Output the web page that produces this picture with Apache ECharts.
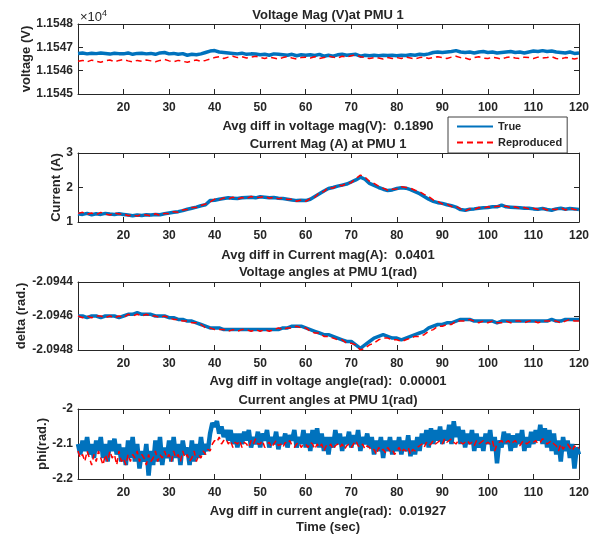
<!DOCTYPE html>
<html><head><meta charset="utf-8">
<script src="https://cdn.jsdelivr.net/npm/echarts@6/dist/echarts.min.js"></script>
<style>html,body{margin:0;padding:0;background:#fff}#c{width:600px;height:534px}</style>
</head><body><div id="c"></div>
<script>
// ---- time grids (s) ----
const timeSec = [10,11,12,13,14,15,16,17,18,19,20,21,22,23,24,25,26,27,28,29,30,31,32,33,34,35,36,37,38,39,
40,41,42,43,44,45,46,47,48,49,50,51,52,53,54,55,56,57,58,59,60,61,62,63,64,65,66,67,68,69,
70,71,72,73,74,75,76,77,78,79,80,81,82,83,84,85,86,87,88,89,90,91,92,93,94,95,96,97,98,99,
100,101,102,103,104,105,106,107,108,109,110,111,112,113,114,115,116,117,118,119,120];
const timeFine = [10,10.5,11,11.5,12,12.5,13,13.5,14,14.5,15,15.5,16,16.5,17,17.5,18,18.5,19,19.5,
20,20.5,21,21.5,22,22.5,23,23.5,24,24.5,25,25.5,26,26.5,27,27.5,28,28.5,29,29.5,
30,30.5,31,31.5,32,32.5,33,33.5,34,34.5,35,35.5,36,36.5,37,37.5,38,38.5,39,39.5,
40,40.5,41,41.5,42,42.5,43,43.5,44,44.5,45,45.5,46,46.5,47,47.5,48,48.5,49,49.5,
50,50.5,51,51.5,52,52.5,53,53.5,54,54.5,55,55.5,56,56.5,57,57.5,58,58.5,59,59.5,
60,60.5,61,61.5,62,62.5,63,63.5,64,64.5,65,65.5,66,66.5,67,67.5,68,68.5,69,69.5,
70,70.5,71,71.5,72,72.5,73,73.5,74,74.5,75,75.5,76,76.5,77,77.5,78,78.5,79,79.5,
80,80.5,81,81.5,82,82.5,83,83.5,84,84.5,85,85.5,86,86.5,87,87.5,88,88.5,89,89.5,
90,90.5,91,91.5,92,92.5,93,93.5,94,94.5,95,95.5,96,96.5,97,97.5,98,98.5,99,99.5,
100,100.5,101,101.5,102,102.5,103,103.5,104,104.5,105,105.5,106,106.5,107,107.5,108,108.5,109,109.5,
110,110.5,111,111.5,112,112.5,113,113.5,114,114.5,115,115.5,116,116.5,117,117.5,118,118.5,119,119.5,120];

// ---- Panel 1: voltage magnitude (V) ----
const voltMagTrue = [11546.74,11546.76,11546.72,11546.75,11546.73,11546.76,11546.74,11546.71,11546.75,11546.73,
11546.72,11546.76,11546.70,11546.74,11546.75,11546.72,11546.74,11546.70,11546.76,11546.78,
11546.72,11546.74,11546.70,11546.73,11546.66,11546.70,11546.68,11546.72,11546.78,11546.84,
11546.86,11546.80,11546.78,11546.76,11546.74,11546.72,11546.75,11546.70,11546.72,11546.71,
11546.68,11546.70,11546.66,11546.72,11546.70,11546.68,11546.66,11546.70,11546.64,11546.68,
11546.66,11546.68,11546.65,11546.70,11546.62,11546.66,11546.62,11546.68,11546.70,11546.66,
11546.68,11546.70,11546.62,11546.66,11546.64,11546.66,11546.64,11546.66,11546.65,11546.66,
11546.64,11546.66,11546.65,11546.68,11546.66,11546.70,11546.68,11546.72,11546.78,11546.80,
11546.78,11546.80,11546.82,11546.86,11546.80,11546.78,11546.80,11546.76,11546.80,11546.82,
11546.78,11546.80,11546.76,11546.78,11546.80,11546.82,11546.78,11546.80,11546.76,11546.80,
11546.84,11546.82,11546.86,11546.82,11546.84,11546.80,11546.78,11546.76,11546.80,11546.74,11546.76];
const voltMagRep = [11546.40,11546.44,11546.38,11546.45,11546.40,11546.36,11546.42,11546.46,11546.38,11546.44,
11546.48,11546.42,11546.38,11546.44,11546.40,11546.46,11546.42,11546.38,11546.44,11546.48,
11546.42,11546.38,11546.44,11546.40,11546.36,11546.42,11546.46,11546.40,11546.44,11546.50,
11546.56,11546.60,11546.52,11546.58,11546.62,11546.56,11546.60,11546.54,11546.58,11546.62,
11546.56,11546.52,11546.58,11546.54,11546.50,11546.56,11546.60,11546.54,11546.50,11546.56,
11546.58,11546.54,11546.60,11546.52,11546.56,11546.62,11546.58,11546.54,11546.62,11546.58,
11546.64,11546.68,11546.60,11546.56,11546.52,11546.56,11546.54,11546.50,11546.56,11546.52,
11546.56,11546.52,11546.58,11546.54,11546.50,11546.56,11546.58,11546.52,11546.56,11546.60,
11546.56,11546.52,11546.58,11546.62,11546.56,11546.54,11546.48,11546.56,11546.60,11546.54,
11546.52,11546.58,11546.54,11546.50,11546.56,11546.60,11546.54,11546.52,11546.58,11546.56,
11546.52,11546.58,11546.54,11546.56,11546.60,11546.52,11546.50,11546.56,11546.54,11546.50,11546.55];

// ---- Panel 2: current magnitude (A) ----
const curMagTrue = [1.24,1.22,1.25,1.21,1.24,1.22,1.25,1.23,1.22,1.24,
1.22,1.20,1.18,1.20,1.19,1.21,1.20,1.22,1.21,1.24,
1.26,1.28,1.30,1.33,1.37,1.40,1.43,1.47,1.50,1.62,
1.63,1.66,1.68,1.70,1.69,1.68,1.70,1.71,1.72,1.70,
1.73,1.72,1.70,1.71,1.69,1.68,1.66,1.64,1.62,1.63,
1.62,1.66,1.74,1.82,1.90,1.97,2.00,2.04,2.07,2.10,
2.16,2.22,2.30,2.24,2.12,2.06,2.00,1.95,1.91,1.93,
1.97,1.99,1.98,1.94,1.88,1.82,1.74,1.66,1.60,1.56,
1.54,1.50,1.47,1.43,1.36,1.34,1.37,1.38,1.40,1.41,
1.42,1.44,1.44,1.49,1.44,1.43,1.42,1.41,1.40,1.40,
1.38,1.37,1.39,1.36,1.34,1.38,1.40,1.37,1.39,1.38,1.36];
const curMagRep = [1.25,1.28,1.22,1.26,1.21,1.28,1.23,1.20,1.26,1.23,
1.24,1.18,1.21,1.17,1.22,1.20,1.18,1.24,1.19,1.25,
1.24,1.30,1.28,1.35,1.36,1.42,1.42,1.48,1.52,1.58,
1.66,1.64,1.70,1.67,1.72,1.66,1.71,1.68,1.74,1.71,
1.72,1.74,1.69,1.72,1.67,1.70,1.65,1.66,1.60,1.64,
1.60,1.68,1.72,1.85,1.88,2.00,1.98,2.07,2.05,2.12,
2.14,2.26,2.36,2.30,2.18,2.12,2.04,1.98,1.92,1.95,
1.96,2.02,2.00,1.98,1.92,1.88,1.80,1.74,1.64,1.60,
1.52,1.52,1.45,1.45,1.38,1.32,1.38,1.36,1.42,1.40,
1.44,1.42,1.46,1.46,1.46,1.41,1.44,1.39,1.42,1.38,
1.40,1.36,1.40,1.35,1.37,1.36,1.41,1.35,1.40,1.36,1.35];

// ---- Panel 3: voltage angle (rad) ----
const voltAngTrue = [-2.09460,-2.09460,-2.09461,-2.09460,-2.09460,-2.09461,-2.09460,-2.09460,-2.09460,-2.09461,
-2.09460,-2.09459,-2.09459,-2.09458,-2.09459,-2.09459,-2.09459,-2.09460,-2.09460,-2.09460,
-2.09461,-2.09461,-2.09462,-2.09462,-2.09463,-2.09463,-2.09464,-2.09465,-2.09466,-2.09467,
-2.09467,-2.09467,-2.09468,-2.09468,-2.09468,-2.09468,-2.09468,-2.09468,-2.09468,-2.09468,
-2.09468,-2.09468,-2.09468,-2.09468,-2.09468,-2.09467,-2.09467,-2.09466,-2.09466,-2.09466,
-2.09467,-2.09468,-2.09469,-2.09470,-2.09471,-2.09471,-2.09472,-2.09473,-2.09474,-2.09475,
-2.09475,-2.09477,-2.09479,-2.09477,-2.09475,-2.09473,-2.09472,-2.09471,-2.09472,-2.09473,
-2.09473,-2.09474,-2.09473,-2.09472,-2.09471,-2.09470,-2.09469,-2.09467,-2.09466,-2.09465,
-2.09465,-2.09464,-2.09464,-2.09463,-2.09462,-2.09462,-2.09462,-2.09463,-2.09463,-2.09463,
-2.09463,-2.09463,-2.09464,-2.09463,-2.09463,-2.09463,-2.09463,-2.09463,-2.09463,-2.09463,
-2.09463,-2.09463,-2.09463,-2.09463,-2.09462,-2.09463,-2.09463,-2.09462,-2.09462,-2.09462,-2.09462];
const voltAngRep = [-2.09460,-2.09461,-2.09460,-2.09461,-2.09460,-2.09460,-2.09461,-2.09460,-2.09461,-2.09460,
-2.09461,-2.09459,-2.09460,-2.09459,-2.09460,-2.09459,-2.09460,-2.09460,-2.09461,-2.09460,
-2.09461,-2.09462,-2.09462,-2.09463,-2.09463,-2.09464,-2.09464,-2.09465,-2.09467,-2.09467,
-2.09468,-2.09468,-2.09468,-2.09469,-2.09468,-2.09469,-2.09468,-2.09468,-2.09469,-2.09468,
-2.09469,-2.09468,-2.09469,-2.09468,-2.09467,-2.09468,-2.09467,-2.09467,-2.09466,-2.09467,
-2.09467,-2.09469,-2.09470,-2.09470,-2.09472,-2.09472,-2.09473,-2.09474,-2.09474,-2.09476,
-2.09476,-2.09477,-2.09480,-2.09479,-2.09477,-2.09476,-2.09474,-2.09473,-2.09473,-2.09474,
-2.09474,-2.09475,-2.09474,-2.09473,-2.09472,-2.09472,-2.09471,-2.09469,-2.09468,-2.09466,
-2.09466,-2.09465,-2.09465,-2.09463,-2.09463,-2.09463,-2.09462,-2.09463,-2.09464,-2.09463,
-2.09464,-2.09463,-2.09464,-2.09464,-2.09463,-2.09464,-2.09463,-2.09463,-2.09464,-2.09463,
-2.09463,-2.09464,-2.09463,-2.09463,-2.09463,-2.09463,-2.09464,-2.09463,-2.09462,-2.09463,-2.09463];

// ---- Panel 4: current angle (rad) ----
const curAngTrue = [-2.10,-2.13,-2.09,-2.12,-2.08,-2.13,-2.10,-2.14,-2.09,-2.12,
-2.08,-2.14,-2.10,-2.15,-2.09,-2.12,-2.085,-2.13,-2.10,-2.15,
-2.11,-2.16,-2.09,-2.14,-2.08,-2.15,-2.10,-2.17,-2.12,-2.15,
-2.10,-2.19,-2.12,-2.16,-2.09,-2.15,-2.08,-2.16,-2.11,-2.14,
-2.09,-2.15,-2.08,-2.14,-2.10,-2.16,-2.09,-2.13,-2.11,-2.16,
-2.09,-2.15,-2.10,-2.14,-2.08,-2.13,-2.10,-2.12,-2.07,-2.04,
-2.05,-2.035,-2.07,-2.05,-2.08,-2.06,-2.09,-2.06,-2.10,-2.07,
-2.11,-2.07,-2.10,-2.065,-2.09,-2.06,-2.11,-2.08,-2.10,-2.065,
-2.11,-2.07,-2.09,-2.06,-2.11,-2.08,-2.10,-2.065,-2.115,-2.08,
-2.10,-2.07,-2.11,-2.075,-2.09,-2.06,-2.11,-2.08,-2.10,-2.06,
-2.11,-2.07,-2.12,-2.06,-2.10,-2.055,-2.11,-2.07,-2.12,-2.08,
-2.13,-2.08,-2.11,-2.06,-2.10,-2.07,-2.12,-2.08,-2.10,-2.065,
-2.11,-2.075,-2.10,-2.06,-2.12,-2.08,-2.10,-2.07,-2.11,-2.08,
-2.13,-2.09,-2.12,-2.08,-2.14,-2.09,-2.12,-2.08,-2.13,-2.09,
-2.12,-2.08,-2.13,-2.09,-2.12,-2.075,-2.135,-2.09,-2.13,-2.08,
-2.12,-2.07,-2.10,-2.06,-2.11,-2.055,-2.10,-2.06,-2.09,-2.05,
-2.10,-2.06,-2.09,-2.045,-2.10,-2.035,-2.08,-2.05,-2.10,-2.06,
-2.11,-2.07,-2.10,-2.06,-2.12,-2.07,-2.11,-2.08,-2.12,-2.07,
-2.10,-2.06,-2.12,-2.08,-2.155,-2.09,-2.11,-2.065,-2.10,-2.07,
-2.12,-2.075,-2.11,-2.07,-2.10,-2.06,-2.12,-2.08,-2.11,-2.065,
-2.10,-2.06,-2.09,-2.045,-2.10,-2.055,-2.11,-2.06,-2.12,-2.07,
-2.13,-2.09,-2.15,-2.08,-2.12,-2.09,-2.14,-2.10,-2.17,-2.11,-2.13];
const curAngRep = [-2.12,-2.14,-2.13,-2.15,-2.12,-2.14,-2.16,-2.13,-2.15,-2.12,
-2.14,-2.16,-2.13,-2.15,-2.12,-2.14,-2.13,-2.16,-2.12,-2.15,
-2.14,-2.16,-2.13,-2.15,-2.13,-2.14,-2.12,-2.15,-2.13,-2.14,
-2.16,-2.13,-2.15,-2.14,-2.12,-2.15,-2.13,-2.14,-2.12,-2.14,
-2.13,-2.15,-2.12,-2.14,-2.13,-2.15,-2.12,-2.14,-2.13,-2.15,
-2.14,-2.12,-2.15,-2.13,-2.14,-2.12,-2.13,-2.115,-2.12,-2.10,
-2.09,-2.095,-2.08,-2.10,-2.09,-2.085,-2.10,-2.09,-2.11,-2.095,
-2.10,-2.09,-2.11,-2.095,-2.10,-2.11,-2.09,-2.10,-2.085,-2.10,
-2.10,-2.09,-2.11,-2.10,-2.095,-2.11,-2.10,-2.09,-2.105,-2.10,
-2.11,-2.095,-2.10,-2.09,-2.105,-2.11,-2.10,-2.095,-2.11,-2.10,
-2.10,-2.11,-2.095,-2.10,-2.115,-2.10,-2.11,-2.10,-2.12,-2.105,
-2.11,-2.10,-2.115,-2.105,-2.10,-2.11,-2.10,-2.115,-2.105,-2.10,
-2.11,-2.10,-2.09,-2.105,-2.11,-2.10,-2.115,-2.105,-2.11,-2.12,
-2.115,-2.13,-2.11,-2.12,-2.115,-2.125,-2.11,-2.12,-2.115,-2.13,
-2.12,-2.11,-2.125,-2.115,-2.12,-2.11,-2.13,-2.115,-2.12,-2.11,
-2.105,-2.10,-2.11,-2.095,-2.105,-2.10,-2.09,-2.10,-2.095,-2.09,
-2.10,-2.085,-2.095,-2.09,-2.085,-2.095,-2.10,-2.09,-2.095,-2.10,
-2.095,-2.09,-2.10,-2.095,-2.105,-2.09,-2.10,-2.095,-2.09,-2.10,
-2.095,-2.10,-2.09,-2.12,-2.10,-2.095,-2.09,-2.10,-2.095,-2.09,
-2.10,-2.095,-2.09,-2.10,-2.105,-2.095,-2.09,-2.10,-2.095,-2.09,
-2.095,-2.09,-2.10,-2.095,-2.085,-2.09,-2.10,-2.095,-2.09,-2.10,
-2.105,-2.12,-2.10,-2.115,-2.105,-2.10,-2.11,-2.12,-2.105,-2.115,-2.11];

// ---- texts ----
const panelTitles = ['Voltage Mag (V)at PMU 1','Current Mag (A) at PMU 1','Voltage angles at PMU 1(rad)','Current angles at PMU 1(rad)'];
const panelXLabels = ['Avg diff in voltage mag(V):  0.1890','Avg diff in Current mag(A):  0.0401','Avg diff in voltage angle(rad):  0.00001','Avg diff in current angle(rad):  0.01927'];
const panelYLabels = ['voltage (V)','Current (A)','delta (rad.)','phi(rad.)'];
const xTickLabels = [20,30,40,50,60,70,80,90,100,110,120];

const FONT = 'Arial, "Liberation Sans", Helvetica, sans-serif';
const TXT = '#262626';
const BLUE = '#0072BD', RED = '#FF0000';

const layout = [
  {top:24,height:70, titleY:15, xlabY:126, nameGap:45},
  {top:153,height:69, titleY:144, xlabY:255, nameGap:15},
  {top:282,height:68, titleY:272, xlabY:381, nameGap:50},
  {top:409,height:70, titleY:400, xlabY:511, nameGap:29}
];
const yCfg = [
  {min:11545,max:11548,interval:1,fmt:v=>(v/1e4).toFixed(4)},
  {min:1,max:3,interval:1,fmt:v=>String(Math.round(v))},
  {min:-2.0948,max:-2.0944,interval:0.0002,fmt:v=>v.toFixed(4)},
  {min:-2.2,max:-2.0,interval:0.1,fmt:v=>String(+v.toFixed(1))}
];
const seriesData = [
  [voltMagTrue, voltMagRep, timeSec],
  [curMagTrue, curMagRep, timeSec],
  [voltAngTrue, voltAngRep, timeSec],
  [curAngTrue, curAngRep, timeFine]
];

const grid=[], xAxis=[], yAxis=[], series=[], graphic=[];
layout.forEach((L,i)=>{
  grid.push({left:78,right:21,top:L.top,height:L.height,containLabel:false});
  const axLine = {show:true,lineStyle:{color:TXT,width:1}};
  const tick = {show:true,inside:true,length:5,lineStyle:{color:TXT}};
  xAxis.push({type:'value',gridIndex:i,position:'bottom',min:10,max:120,interval:10,
    axisLine:axLine,axisTick:tick,splitLine:{show:false},
    axisLabel:{showMinLabel:false,color:TXT,fontFamily:FONT,fontWeight:'bold',fontSize:12,margin:8,
      formatter:v=> xTickLabels.indexOf(v)>=0 ? String(v) : ''}});
  xAxis.push({type:'value',gridIndex:i,position:'top',min:10,max:120,interval:10,
    axisLine:axLine,axisTick:tick,splitLine:{show:false},axisLabel:{show:false}});
  const Y=yCfg[i];
  yAxis.push({type:'value',gridIndex:i,position:'left',min:Y.min,max:Y.max,interval:Y.interval,
    axisLine:axLine,axisTick:tick,splitLine:{show:false},
    axisLabel:{color:TXT,fontFamily:FONT,fontWeight:'bold',fontSize:12,margin:5,formatter:Y.fmt},
    name:panelYLabels[i],nameLocation:'middle',nameRotate:90,nameGap:L.nameGap,nameMoveOverlap:false,
    nameTextStyle:{color:TXT,fontFamily:FONT,fontWeight:'bold',fontSize:13}});
  yAxis.push({type:'value',gridIndex:i,position:'right',min:Y.min,max:Y.max,interval:Y.interval,
    axisLine:axLine,axisTick:tick,splitLine:{show:false},axisLabel:{show:false}});
  const [tr,rp,tm]=seriesData[i];
  series.push({name:'True',type:'line',xAxisIndex:2*i,yAxisIndex:2*i,symbol:'none',
    lineStyle:{color:BLUE,width:i===3?4.5:3.5},itemStyle:{color:BLUE},
    data:tm.map((t,k)=>[t,tr[k]]),z:2});
  series.push({name:'Reproduced',type:'line',xAxisIndex:2*i,yAxisIndex:2*i,symbol:'none',
    lineStyle:{color:RED,width:1.5,type:[6,4]},itemStyle:{color:RED},
    data:tm.map((t,k)=>[t,rp[k]]),z:3});
  graphic.push({type:'text',style:{text:panelTitles[i],fill:TXT,font:'bold 13px '+FONT,textAlign:'center',textVerticalAlign:'middle'},position:[328,L.titleY]});
  graphic.push({type:'text',style:{text:panelXLabels[i],fill:TXT,font:'bold 13px '+FONT,textAlign:'center',textVerticalAlign:'middle'},position:[328,L.xlabY]});
});
graphic.push({type:'text',style:{text:'Time (sec)',fill:TXT,font:'bold 13px '+FONT,textAlign:'center',textVerticalAlign:'middle'},position:[328,527]});
graphic.push({type:'text',position:[80,17],style:{text:'×10{s|4}',fill:TXT,font:'13px '+FONT,textVerticalAlign:'middle',
  rich:{s:{fontSize:9,fontFamily:FONT,fill:TXT,verticalAlign:'top',padding:[0,0,7,0]}}}});

const chart = echarts.init(document.getElementById('c'),null,{renderer:'canvas'});
chart.setOption({
  animation:false,
  backgroundColor:'#fff',
  grid, xAxis, yAxis, series, graphic,
  legend:{data:['True','Reproduced'],orient:'vertical',left:448,top:117,
    padding:[4,5,5,8],itemGap:5,itemWidth:36,itemHeight:10,
    itemStyle:{opacity:0},
    backgroundColor:'#fff',borderColor:'#404040',borderWidth:1,
    textStyle:{color:TXT,fontFamily:FONT,fontWeight:'bold',fontSize:11},z:10}
});
</script></body></html>
